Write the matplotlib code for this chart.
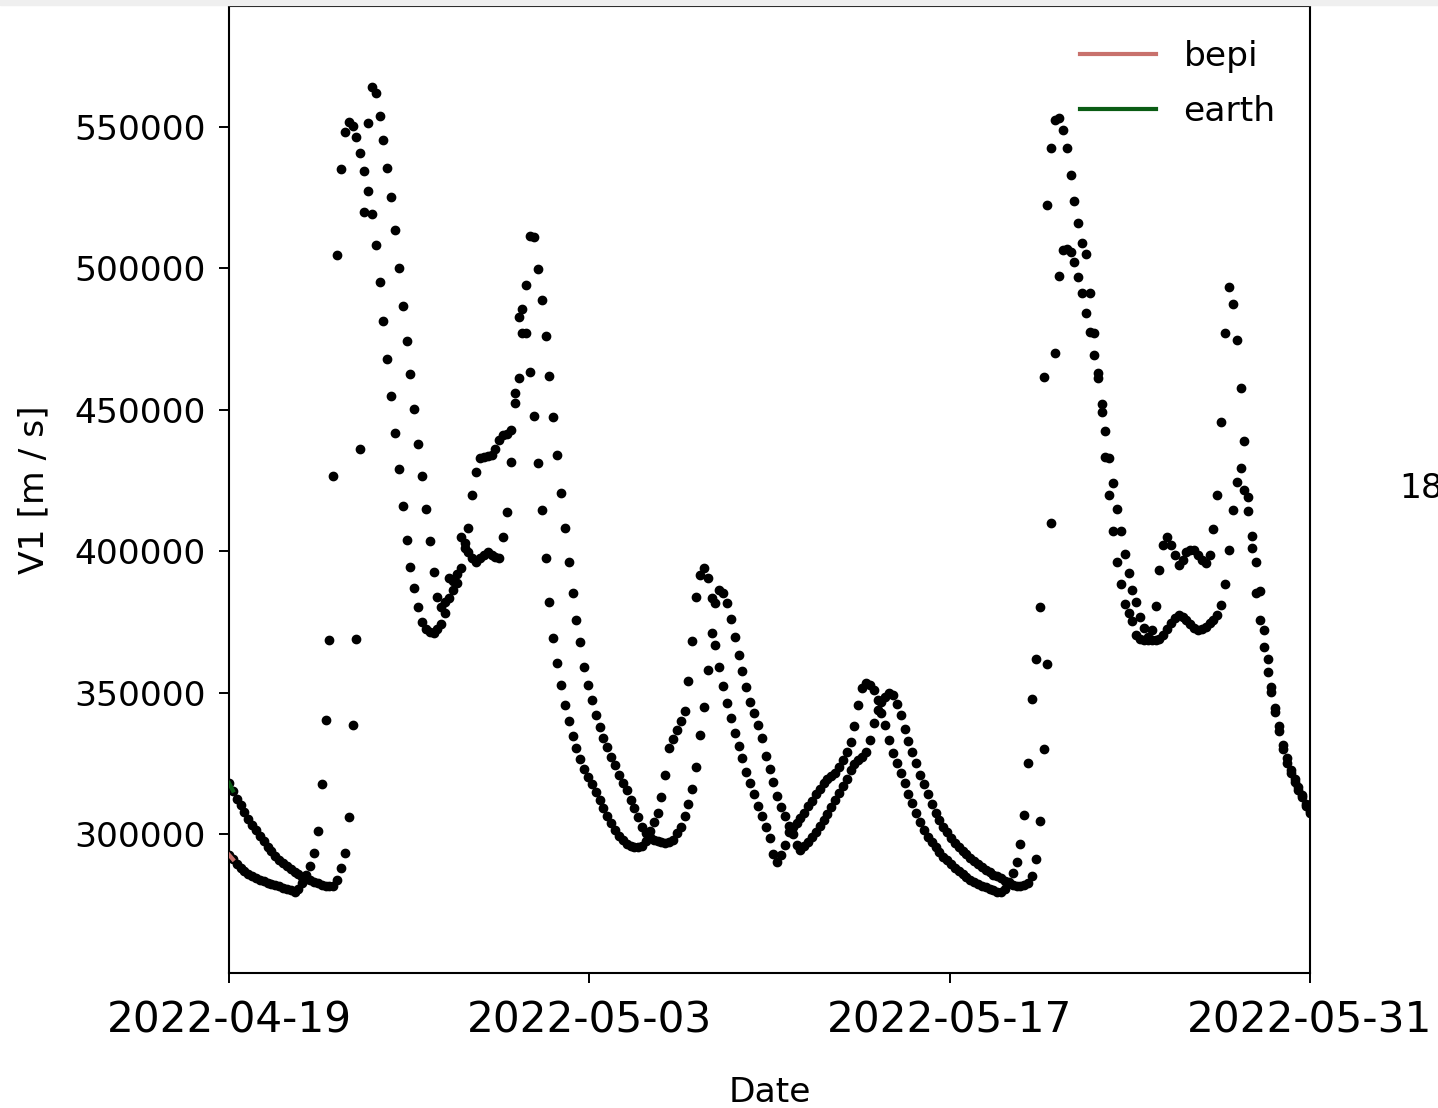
import pandas as pd
import matplotlib
matplotlib.use("Agg")
import matplotlib.pyplot as plt
import matplotlib.dates as mdates
from matplotlib.patches import Rectangle

# V1 speed at bepi and at earth, one value every 3.6 h from 2022-04-19 00:00
START = "2022-04-19"
STEP = "216min"

bepi_v1 = [
    292600, 291000, 289500, 288000, 286800, 285800, 285000, 284300, 283700, 283200,
    282700, 282300, 281900, 281500, 281000, 280500, 280000, 279400, 280500, 282600,
    285500, 288500, 293300, 301000, 317700, 340300, 368600, 426600, 504700, 535000,
    548100, 551900, 550500, 546400, 540900, 534600, 527400, 519300, 508300, 495200,
    481500, 467900, 454700, 441700, 429000, 416000, 404000, 394500, 386900, 380200,
    375100, 372500, 371300, 371000, 372300, 374200, 378000, 390400, 389500, 388600,
    394000, 401000, 408100, 419900, 428100, 432800, 433200, 433600, 434000, 436300,
    439300, 441100, 441300, 443000, 452300, 482900, 485800, 477000, 463500, 447800,
    431100, 414600, 397700, 382100, 369200, 360500, 352500, 345500, 340000, 334600,
    330500, 326500, 323000, 320000, 317500, 314900, 312000, 309200, 306500, 304000,
    301300, 299300, 297900, 296500, 295800, 295500, 295500, 295800, 297500, 301000,
    304300, 307500, 313000, 321000, 330300, 333500, 336600, 340000, 343500, 353900,
    368300, 383700, 391600, 393900, 390400, 383300, 366800, 359200, 352400, 346400,
    341100, 335800, 331000, 327000, 322000, 318000, 314000, 310000, 306500, 302500,
    298500, 293000, 290200, 292500, 296000, 300500, 302500, 304000, 305500, 307500,
    309700, 311800, 314000, 316000, 318000, 319500, 320500, 321500, 323800, 326200,
    329000, 332500, 338000, 345500, 351500, 353300, 352700, 351000, 347400, 342700,
    338500, 333200, 328500, 325000, 321500, 318000, 314000, 310900, 307500, 304300,
    301500, 299000, 297000, 295200, 293500, 292000, 290600, 289300, 288000, 286800,
    285700, 284700, 283700, 282900, 282200, 281600, 281100, 280600, 280100, 279600,
    279500, 280500, 283000, 286000, 290200, 296500, 306700, 325000, 347700, 362000,
    380400, 461700, 522400, 542500, 552500, 553200, 549000, 542500, 533000, 524000,
    516000, 509000, 505100, 491200, 477000, 461100, 449300, 433400, 419900, 407100,
    396300, 388400, 381300, 378000, 375400, 370400, 369000, 368500, 368400, 372000,
    380600, 393500, 402000, 405100, 402200, 398700, 395200, 397000, 399800, 400500,
    400400, 398500, 396800, 395700, 398700, 407800, 419900, 445800, 477000, 493300,
    487400, 474500, 457600, 439000, 419300, 401000, 385100, 375700, 366200, 357400,
    350300, 344500, 338000, 331500, 327000, 322500, 319500, 316500, 313800, 310500,
    308000,
]

earth_v1 = [
    318000, 315300, 312500, 310200, 307600, 305300, 303300, 301200, 299300, 297400,
    295500, 293900, 292300, 290800, 289600, 288500, 287500, 286600, 285700, 284900,
    284200, 283600, 283100, 282600, 282100, 281700, 281400, 281600, 283700, 288000,
    293300, 306000, 338500, 369000, 436000, 520000, 551300, 564200, 561900, 553900,
    545400, 535600, 525100, 513700, 500000, 486800, 474300, 462500, 450300, 437900,
    426600, 414800, 403700, 392700, 383700, 380400, 382000, 383300, 386300, 392000,
    405100, 402800, 399800, 397500, 396300, 397500, 398800, 399800, 398700, 397800,
    397500, 405100, 414000, 431600, 455800, 461100, 477000, 494100, 511500, 511200,
    499700, 488800, 476100, 461900, 447600, 434000, 420700, 408100, 396000, 385100,
    375800, 367700, 359200, 352700, 347400, 342000, 337900, 333800, 330900, 327300,
    324400, 320900, 318100, 315600, 312000, 309100, 306100, 302600, 300200, 298800,
    298000, 297500, 297000, 296700, 297200, 297900, 300200, 302600, 306500, 310500,
    316000, 323800, 335000, 345000, 358000, 371000, 381500, 386300, 385300, 381600,
    375900, 369600, 363300, 357700, 352100, 346800, 342900, 338500, 333800, 327500,
    323000, 318500, 313500, 309500, 306500, 302800, 299800, 296000, 294300, 295600,
    297000, 298800, 300800, 302800, 305000, 307000, 309500, 312000, 314400, 316800,
    319500, 322500, 324800, 326000, 327200, 329100, 333200, 339100, 343800, 346500,
    348500, 349900, 349200, 346000, 342000, 337000, 333000, 329100, 325000, 321000,
    317500, 314000, 310500, 307500, 305000, 302500, 300500, 298500, 296700, 295300,
    294000, 292800, 291500, 290300, 289200, 288200, 287300, 286400, 285600, 285000,
    284300, 283300, 282600, 282000, 281700, 281500, 281800, 282600, 285000, 291000,
    304400, 330000, 360000, 410000, 470000, 497300, 506500, 507000, 505900, 502200,
    496800, 491200, 484300, 477500, 469400, 462900, 452000, 442500, 432800, 424000,
    414900, 407100, 399000, 392400, 386300, 381900, 376800, 372700, 369500, 368500,
    368400, 369000, 370500, 372500, 374500, 376500, 377400, 376800, 375700, 374200,
    372800, 372100, 372300, 373300, 374500, 375800, 377500, 381000, 388300, 400400,
    414600, 424600, 429300, 421600, 414300, 405400, 396000, 386000, 372000, 362000,
    352000, 343000, 336500, 330000, 325000, 321500, 318500, 315500, 313000, 310000,
    307500,
]

tick_dates = ["2022-04-19", "2022-05-03", "2022-05-17", "2022-05-31"]
y_ticks = [300000, 350000, 400000, 450000, 500000, 550000]

time = pd.date_range(START, periods=len(bepi_v1), freq=STEP)

BASE_FS = 24.8
fig = plt.figure(figsize=(14.38, 11.08), dpi=100)
ax = fig.add_axes([0.15925, 0.12184, 0.75174, 0.87274])

# thin grey strip along the top edge of the screenshot
fig.patches.append(Rectangle((0, 1 - 5 / 1108), 1, 5 / 1108, transform=fig.transFigure,
                             color="#efefef", zorder=0))

# coloured lines only over the first samples (they carry the legend)
ax.plot(time[:2], bepi_v1[:2], color="#c8716c", lw=3, label="bepi", zorder=3)
ax.plot(time[:2], earth_v1[:2], color="#0a5c14", lw=3, label="earth", zorder=3)

ax.plot(time, bepi_v1, "o", color="black", ms=6, zorder=2)
ax.plot(time, earth_v1, "o", color="black", ms=6, zorder=2)

ax.set_xlim(pd.Timestamp("2022-04-19"), pd.Timestamp("2022-05-31"))
ax.set_ylim(250800, 592800)
ax.set_xticks(pd.to_datetime(tick_dates))
ax.xaxis.set_major_formatter(mdates.DateFormatter("%Y-%m-%d"))
ax.set_yticks(y_ticks)
ax.set_yticklabels([str(v) for v in y_ticks])

ax.tick_params(axis="x", labelsize=30.4, length=7, width=1.4, pad=12)
ax.tick_params(axis="y", labelsize=BASE_FS, length=7, width=1.4, pad=10)
for sp in ax.spines.values():
    sp.set_linewidth(1.5)

ax.set_xlabel("Date", fontsize=BASE_FS)
ax.set_ylabel("V1 [m / s]", fontsize=BASE_FS)
ax.xaxis.set_label_coords(0.5, -0.1065)
ax.yaxis.set_label_coords(-0.1656, 0.5)

ax.legend(loc="upper right", frameon=False, fontsize=BASE_FS, handlelength=2.2,
          labelspacing=0.62, borderaxespad=0.6)

fig.text(1399 / 1438, 1 - 488 / 1108, "18", fontsize=BASE_FS, ha="left", va="center")

fig.savefig("out.png", dpi=100)
